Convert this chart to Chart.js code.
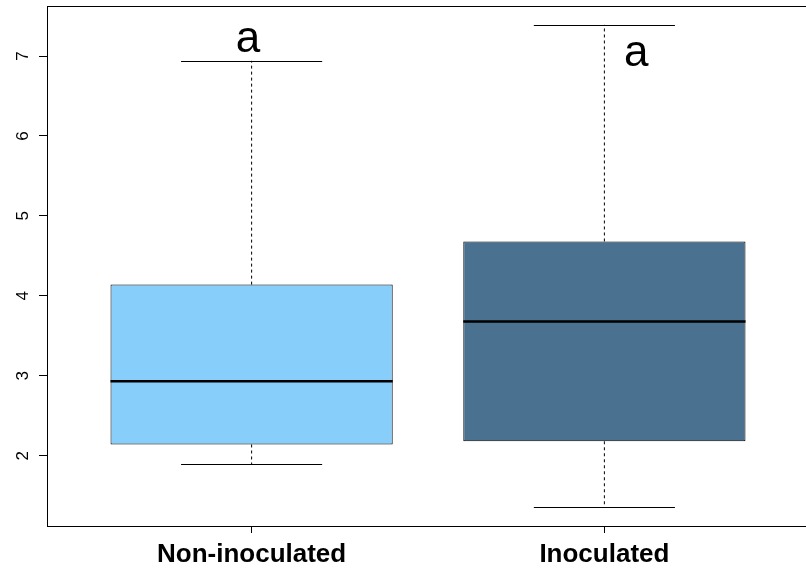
<!DOCTYPE html>
<html>
<head>
<meta charset="utf-8">
<script src="https://cdn.jsdelivr.net/npm/chart.js@4/dist/chart.umd.min.js"></script>
<style>
html,body{margin:0;padding:0;background:#fff;overflow:hidden;width:806px;height:569px;}
canvas{display:block;}
</style>
</head>
<body>
<canvas id="c" width="812" height="569"></canvas>
<script>
// ---- data ----
const categories = ["Non-inoculated", "Inoculated"];
const lowerWhisker = [1.89, 1.36];
const q1 = [2.14, 2.18];
const median = [2.93, 3.68];
const q3 = [4.14, 4.68];
const upperWhisker = [6.94, 7.39];
const groupLetters = ["a", "a"];
const letterX = [0.99, 2.09];
const letterY = [7.2, 7.03];
const yTicks = [2, 3, 4, 5, 6, 7];
const boxColors = ["#87CEFA", "#4A7190"];

const FONT = "'Liberation Sans', Arial, Helvetica, sans-serif";

const boxPlugin = {
  id: 'boxExtras',
  afterDatasetsDraw(chart) {
    const ctx = chart.ctx;
    const xs = chart.scales.x, ys = chart.scales.y;
    const meta = chart.getDatasetMeta(0);
    ctx.save();
    categories.forEach((c, i) => {
      const xc = xs.getPixelForValue(i + 1);
      const bw = meta.data[i].width;
      const half = bw / 4;
      ctx.strokeStyle = '#000';
      ctx.lineWidth = 1;
      ctx.setLineDash([3, 3]);
      ctx.beginPath();
      ctx.moveTo(xc, ys.getPixelForValue(q3[i]));
      ctx.lineTo(xc, ys.getPixelForValue(upperWhisker[i]));
      ctx.moveTo(xc, ys.getPixelForValue(q1[i]));
      ctx.lineTo(xc, ys.getPixelForValue(lowerWhisker[i]));
      ctx.stroke();
      ctx.setLineDash([]);
      ctx.beginPath();
      const yu = Math.round(ys.getPixelForValue(upperWhisker[i])) + 0.5;
      const yl = Math.round(ys.getPixelForValue(lowerWhisker[i])) + 0.5;
      ctx.moveTo(xc - half, yu); ctx.lineTo(xc + half, yu);
      ctx.moveTo(xc - half, yl); ctx.lineTo(xc + half, yl);
      ctx.stroke();
      ctx.lineWidth = 2.5;
      ctx.beginPath();
      const ym = ys.getPixelForValue(median[i]);
      ctx.moveTo(xc - bw / 2, ym); ctx.lineTo(xc + bw / 2, ym);
      ctx.stroke();
      ctx.fillStyle = '#000';
      ctx.font = '44px ' + FONT;
      ctx.textAlign = 'center';
      ctx.textBaseline = 'middle';
      ctx.fillText(groupLetters[i], xs.getPixelForValue(letterX[i]), ys.getPixelForValue(letterY[i]));
    });
    ctx.restore();
  },
  afterDraw(chart) {
    const a = chart.chartArea, ctx = chart.ctx;
    ctx.save();
    ctx.strokeStyle = '#000';
    ctx.lineWidth = 1;
    ctx.strokeRect(Math.round(a.left) + 0.5, Math.round(a.top) + 0.5, Math.round(a.right - a.left), Math.round(a.bottom - a.top));
    ctx.restore();
  }
};

new Chart(document.getElementById('c'), {
  type: 'bar',
  data: {
    datasets: [{
      data: categories.map((c, i) => ({ x: i + 1, y: [q1[i], q3[i]] })),
      backgroundColor: boxColors,
      borderColor: '#000',
      borderWidth: 1,
      borderSkipped: false,
      categoryPercentage: 1,
      barPercentage: 0.8
    }]
  },
  options: {
    responsive: false,
    animation: false,
    events: [],
    layout: { padding: { top: 6, right: 3, left: 0, bottom: 0 } },
    plugins: { legend: { display: false }, tooltip: { enabled: false } },
    scales: {
      x: {
        type: 'linear',
        offset: false,
        min: 0.42,
        max: 2.58,
        afterBuildTicks: s => { s.ticks = categories.map((c, i) => ({ value: i + 1 })); },
        afterFit: s => { s.height = 43; s.paddingLeft = 0; s.paddingRight = 0; s.paddingTop = 0; s.paddingBottom = 0; },
        grid: { display: true, offset: false, drawOnChartArea: false, drawTicks: true, tickLength: 7, color: '#000' },
        border: { display: true, color: '#000' },
        ticks: {
          callback: v => categories[Math.round(v) - 1] || '',
          font: { family: FONT, size: 26, weight: 'bold' },
          color: '#000',
          padding: 6,
          maxRotation: 0,
          autoSkip: false
        }
      },
      y: {
        type: 'linear',
        min: 1.12,
        max: 7.626,
        afterBuildTicks: s => { s.ticks = yTicks.map(v => ({ value: v })); },
        afterFit: s => { s.width = 47; s.paddingTop = 0; s.paddingBottom = 0; s.paddingLeft = 0; s.paddingRight = 0; },
        grid: { display: true, drawOnChartArea: false, drawTicks: true, tickLength: 8, color: '#000' },
        border: { display: true, color: '#000' },
        ticks: {
          font: { family: FONT, size: 17 },
          color: '#000',
          minRotation: 90,
          maxRotation: 90,
          crossAlign: 'center',
          padding: 11
        }
      }
    }
  },
  plugins: [boxPlugin]
});
</script>
</body>
</html>
